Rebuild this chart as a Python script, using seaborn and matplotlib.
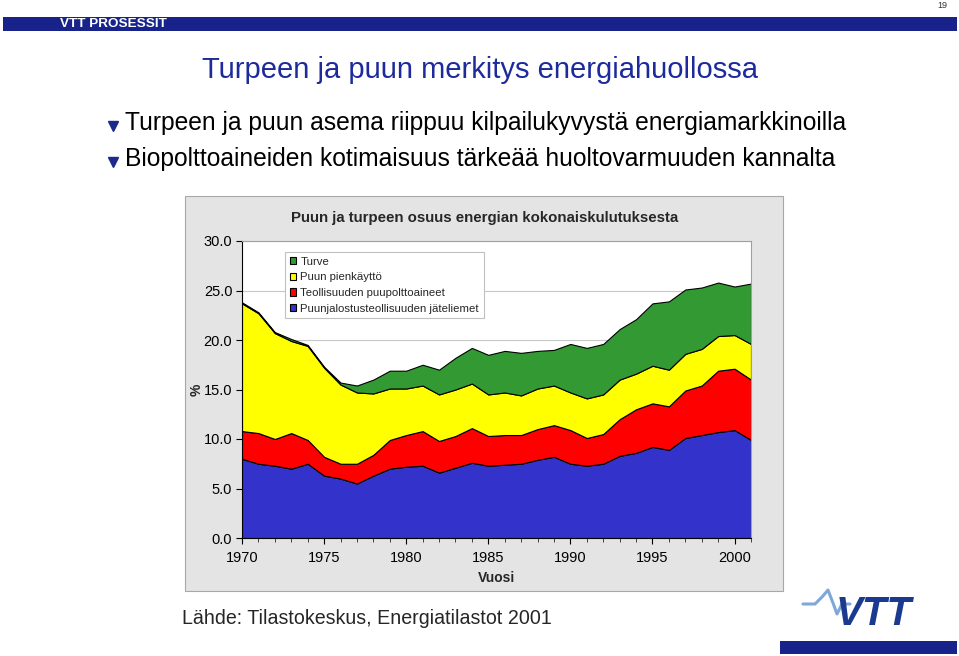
import numpy as np
import pandas as pd
import matplotlib
matplotlib.use("Agg")
import matplotlib.pyplot as plt
import seaborn as sns
from matplotlib.patches import Rectangle, Patch
from matplotlib.lines import Line2D

# ---------------- data ----------------
years = list(range(1970, 2002))
jateliemet = [8.0, 7.5, 7.3, 7.0, 7.5, 6.3, 6.0, 5.5, 6.3, 7.0, 7.2, 7.3, 6.6, 7.1, 7.6, 7.3,
              7.4, 7.5, 7.9, 8.2, 7.5, 7.3, 7.5, 8.3, 8.6, 9.2, 8.9, 10.1, 10.4, 10.7, 10.9, 9.9]
teollisuus = [2.8, 3.1, 2.7, 3.6, 2.4, 1.9, 1.5, 2.0, 2.1, 2.9, 3.2, 3.5, 3.2, 3.2, 3.5, 3.0,
              3.0, 2.9, 3.1, 3.2, 3.4, 2.8, 3.0, 3.7, 4.4, 4.4, 4.4, 4.8, 5.0, 6.2, 6.2, 6.1]
pienkaytto = [12.9, 12.1, 10.7, 9.3, 9.5, 9.0, 8.0, 7.2, 6.2, 5.2, 4.7, 4.6, 4.7, 4.7, 4.5, 4.2,
              4.3, 4.0, 4.1, 4.0, 3.8, 4.0, 4.0, 4.0, 3.6, 3.8, 3.7, 3.7, 3.7, 3.5, 3.4, 3.6]
turve = [0.1, 0.1, 0.1, 0.2, 0.1, 0.1, 0.2, 0.7, 1.4, 1.8, 1.8, 2.1, 2.5, 3.2, 3.6, 4.0,
         4.2, 4.3, 3.8, 3.6, 4.9, 5.1, 5.1, 5.1, 5.5, 6.3, 6.9, 6.5, 6.2, 5.4, 4.9, 6.1]

series_names = ["Puunjalostusteollisuuden jäteliemet", "Teollisuuden puupolttoaineet",
                "Puun pienkäyttö", "Turve"]
legend_order = ["Turve", "Puun pienkäyttö", "Teollisuuden puupolttoaineet",
                "Puunjalostusteollisuuden jäteliemet"]
y_ticks = [0, 5, 10, 15, 20, 25, 30]
x_ticks = [1970, 1975, 1980, 1985, 1990, 1995, 2000]

colors = {"Puunjalostusteollisuuden jäteliemet": "#3333CC",
          "Teollisuuden puupolttoaineet": "#FF0000",
          "Puun pienkäyttö": "#FFFF00",
          "Turve": "#339933"}

df = pd.DataFrame({"Vuosi": years,
                   series_names[0]: jateliemet,
                   series_names[1]: teollisuus,
                   series_names[2]: pienkaytto,
                   series_names[3]: turve})

sns.set_theme(style="white")
plt.rcParams['font.family'] = ['Liberation Sans', 'DejaVu Sans']

W, H = 959, 656
fig = plt.figure(figsize=(W / 100, H / 100), dpi=100)
fig.patch.set_facecolor('white')

def fx(px):
    return px / W

def fy(py):
    return 1 - py / H

# page number and header band
fig.text(fx(942), fy(6), "19", fontsize=6.5, ha='center', va='center', color='#333333')
fig.patches.append(Rectangle((fx(3), fy(31)), fx(954), 14 / H, transform=fig.transFigure,
                             facecolor='#17238a', edgecolor='none', zorder=-5))
fig.text(fx(60), fy(24), "VTT PROSESSIT", fontsize=9.7, weight='bold', color='white',
         ha='left', va='center')

# slide title and bullets
fig.text(fx(480), fy(70), "Turpeen ja puun merkitys energiahuollossa", fontsize=21,
         color='#1d2a9c', ha='center', va='center')
bullets = ["Turpeen ja puun asema riippuu kilpailukyvystä energiamarkkinoilla",
           "Biopolttoaineiden kotimaisuus tärkeää huoltovarmuuden kannalta"]
for i, b in enumerate(bullets):
    yy = 123 + 36 * i
    fig.add_artist(Line2D([fx(113)], [fy(yy + 3)], marker='v', markersize=6.5,
                          color='#1d2a8c', transform=fig.transFigure))
    fig.text(fx(125), fy(yy), b, fontsize=17.7, color='black', ha='left', va='center')

# chart frame
fig.patches.append(Rectangle((fx(185), fy(591)), fx(598), 395 / H, transform=fig.transFigure,
                             facecolor='#e4e4e4', edgecolor='#a8a8a8', lw=0.8, zorder=-5))

ax = fig.add_axes([fx(242), fy(538), fx(751 - 242), (538 - 241) / H])
ax.set_facecolor('white')
ax.stackplot(df["Vuosi"], [df[n] for n in series_names],
             colors=[colors[n] for n in series_names], edgecolor='black', linewidth=0.8,
             zorder=2)
ax.set_xlim(years[0], years[-1])
ax.set_ylim(0, 30)
ax.set_yticks(y_ticks)
ax.set_yticklabels([f"{v:.1f}" for v in y_ticks])
ax.set_xticks(x_ticks)
ax.set_xticklabels([str(v) for v in x_ticks])
ax.set_xticks(years, minor=True)
ax.yaxis.grid(True, color='#c8c8c8', lw=0.8)
ax.set_axisbelow(True)
ax.tick_params(axis='both', which='major', labelsize=10.5, colors='black', length=4,
               width=0.8, direction='out')
ax.tick_params(axis='x', which='major', pad=5)
ax.tick_params(axis='y', which='major', pad=3)
ax.tick_params(axis='x', which='minor', length=3, width=0.6, direction='out', bottom=True)
ax.tick_params(left=True, bottom=True)
for s in ['left', 'bottom']:
    ax.spines[s].set_color('black')
    ax.spines[s].set_linewidth(0.8)
for s in ['top', 'right']:
    ax.spines[s].set_color('#a0a0a0')
    ax.spines[s].set_linewidth(0.8)
ax.set_xlabel("")
ax.set_ylabel("")

fig.text(fx(485), fy(218), "Puun ja turpeen osuus energian kokonaiskulutuksesta",
         fontsize=10.8, weight='bold', ha='center', va='center')
fig.text(fx(197), fy(390), "%", fontsize=10, weight='bold', rotation=90,
         ha='center', va='center')
fig.text(fx(497), fy(578), "Vuosi", fontsize=10, weight='bold', ha='center', va='center')

handles = [Patch(facecolor=colors[n], edgecolor='black', linewidth=0.8) for n in legend_order]
leg = ax.legend(handles, legend_order, loc='upper left',
                bbox_to_anchor=(fx(285), fy(252)), bbox_transform=fig.transFigure,
                borderaxespad=0, fontsize=8.2, handlelength=0.6, handleheight=0.6,
                handletextpad=0.35, labelspacing=0.5, borderpad=0.4,
                frameon=True, fancybox=False, framealpha=1)
leg.get_frame().set_edgecolor('#c0c0c0')
leg.get_frame().set_linewidth(0.8)

# source
fig.text(fx(182), fy(618), "Lähde: Tilastokeskus, Energiatilastot 2001", fontsize=14.1,
         ha='left', va='center')

# VTT logo
pulse_x = [803, 815, 822, 828, 833, 837, 842, 850]
pulse_y = [604, 604, 597, 590, 603, 614, 604, 604]
fig.add_artist(Line2D([fx(v) for v in pulse_x], [fy(v) for v in pulse_y], color='#7fa8d8',
                      lw=2.2, transform=fig.transFigure))
fig.text(fx(874), fy(614), "VTT", fontsize=29, weight='bold', style='italic',
         color='#1a3a8f', ha='center', va='center')
fig.patches.append(Rectangle((fx(780), fy(654)), fx(177), 13 / H, transform=fig.transFigure,
                             facecolor='#17238a', edgecolor='none', zorder=-5))

fig.savefig("out.png", dpi=100)
